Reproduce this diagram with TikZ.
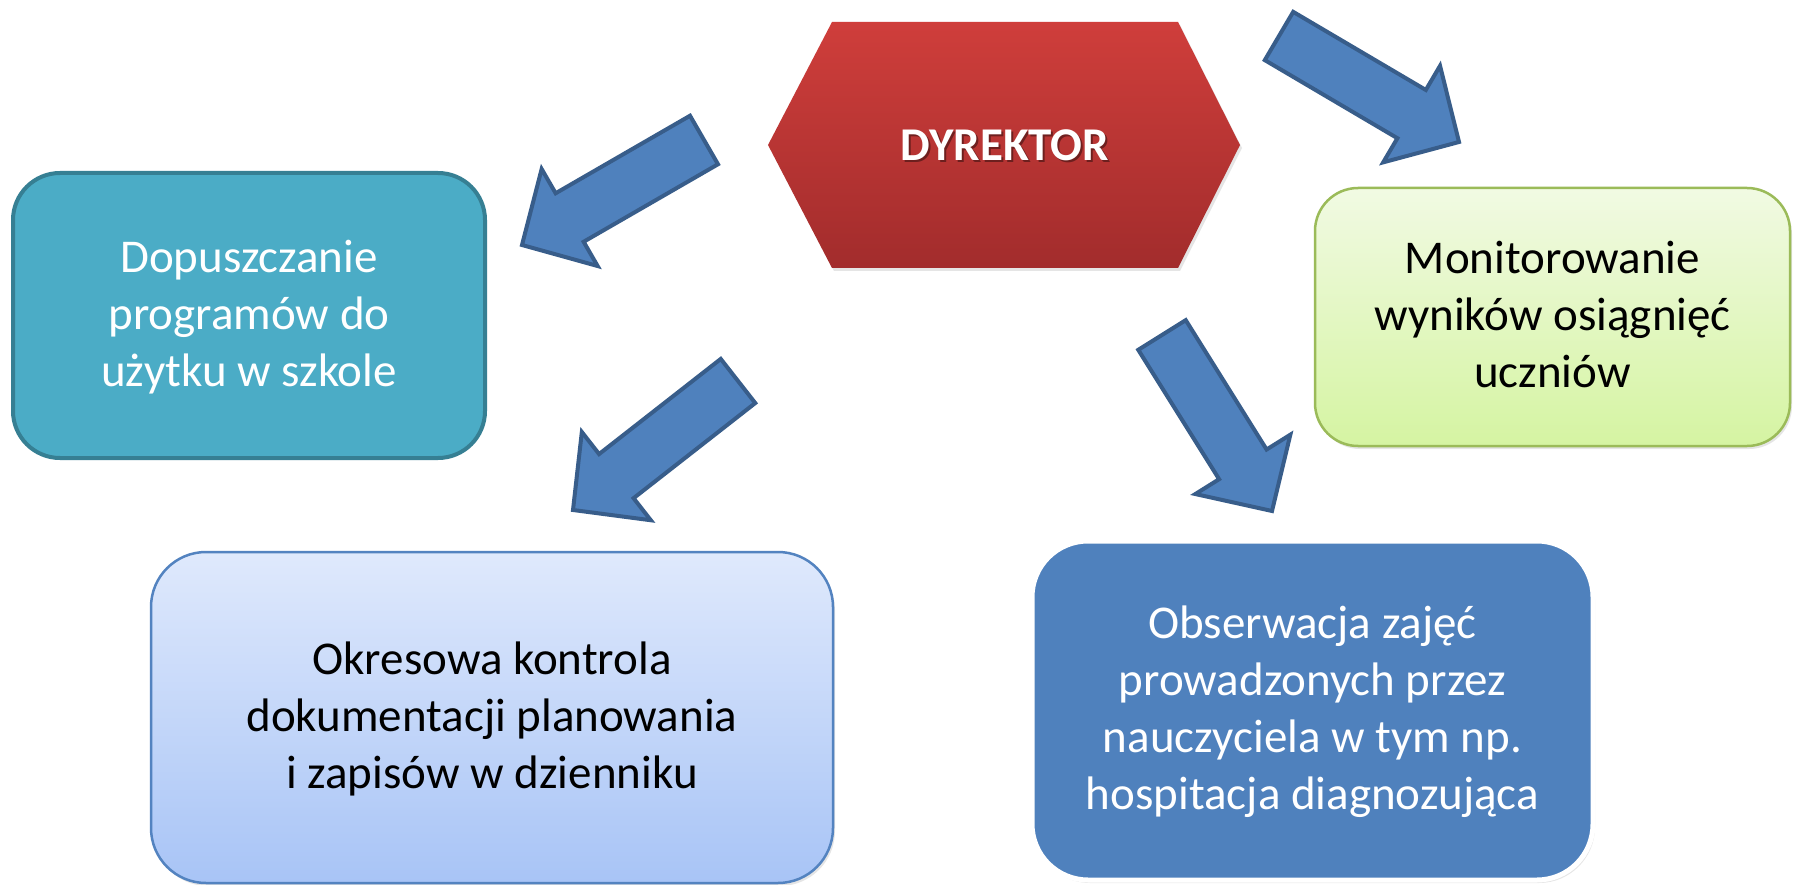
\documentclass[tikz,border=0pt]{standalone}
\usepackage{fontspec}
\setmainfont{Carlito}
\usepackage{xcolor}
\usepackage{tikz}
\usetikzlibrary{calc}
\usetikzlibrary{shadows}

\definecolor{HexTop}{HTML}{CF3E3B}
\definecolor{HexBottom}{HTML}{A22C2C}
\definecolor{TealFill}{HTML}{4BACC6}
\definecolor{TealEdge}{HTML}{367F93}
\definecolor{LimeTop}{HTML}{F1FAE3}
\definecolor{LimeBottom}{HTML}{D5F4A2}
\definecolor{LimeEdge}{HTML}{9BBB59}
\definecolor{SkyTop}{HTML}{DFE9FC}
\definecolor{SkyBottom}{HTML}{A8C4F6}
\definecolor{SkyEdge}{HTML}{5383C0}
\definecolor{ArrowBlue}{HTML}{4F81BD}
\definecolor{ArrowEdge}{HTML}{385D8A}

% fixed height of first line, fixed depth of last line
\newcommand{\ls}{\rule[-10pt]{0pt}{47pt}}

% block arrow from tail #1 to tip #2
\newcommand{\blockarrow}[2]{%
    \coordinate (base) at ($(#2)!55pt!(#1)$);
    \filldraw [blockarrow] ($(#1)!28pt!90:(#2)$) -- ($(base)!28pt!90:(#2)$) -- ($(base)!56pt!90:(#2)$) -- (#2)
        -- ($(base)!56pt!-90:(#2)$) -- ($(base)!28pt!-90:(#2)$) -- ($(#1)!28pt!-90:(#2)$) -- cycle;}

\tikzset{
    box/.style = {align = center, inner sep = 0pt, font = \fontsize{47}{57}\selectfont},
    blockarrow/.style = {fill = ArrowBlue, draw = ArrowEdge, line width = 4pt, line join = miter},
    softshadow/.style = {drop shadow = {shadow xshift = 2pt, shadow yshift = -3pt, opacity = 0.2}}
}

\begin{document}
\begin{tikzpicture}[x = 1pt, y = -1pt]
    \fill [white] (0, 0) rectangle (1793, 885);
    \useasboundingbox (0, 0) rectangle (1793, 885);

    % director
    \shade [top color = HexTop, bottom color = HexBottom, softshadow]
        (832, 22) -- (1178, 22) -- (1240, 145) -- (1178, 268) -- (832, 268) -- (768, 145) -- cycle;
    \node [font = \fontsize{47}{57}\selectfont\bfseries, text = black, opacity = 0.4] (dyrshadow) at (1007, 147) {DYREKTOR};
    \node [font = \fontsize{47}{57}\selectfont\bfseries, text = white] (dyr) at (1005, 145) {DYREKTOR};

    % tasks
    \node [box, minimum width = 472pt, minimum height = 285pt, rounded corners = 47pt,
        fill = TealFill, draw = TealEdge, line width = 4pt, text = white] (dopusz) at (249, 315.5)
        {\ls Dopuszczanie\\programów do\\użytku w szkole\ls};
    \node [box, minimum width = 475pt, minimum height = 258pt, rounded corners = 43pt, softshadow,
        top color = LimeTop, bottom color = LimeBottom, draw = LimeEdge, line width = 2.5pt, text = black] (monit) at (1552.5, 317)
        {\ls Monitorowanie\\wyników osiągnięć\\uczniów\ls};
    \node [box, minimum width = 682pt, minimum height = 331pt, rounded corners = 55pt, softshadow,
        top color = SkyTop, bottom color = SkyBottom, draw = SkyEdge, line width = 2.5pt, text = black] (kontrola) at (492, 717.5)
        {\ls Okresowa kontrola\\dokumentacji planowania\\i zapisów w dzienniku\ls};
    \node [box, minimum width = 561pt, minimum height = 339pt, rounded corners = 56pt, softshadow,
        fill = ArrowBlue, draw = white, line width = 5pt, text = white] (obserw) at (1312.5, 710.5)
        {\ls Obserwacja zajęć\\prowadzonych przez\\nauczyciela w tym np.\\hospitacja diagnozująca\ls};

    % arrows
    \coordinate (tailA) at (704, 140);
    \coordinate (tipA) at (522, 245);
    \coordinate (tailB) at (738, 381);
    \coordinate (tipB) at (573, 510);
    \coordinate (tailC) at (1279, 36);
    \coordinate (tipC) at (1459, 142);
    \coordinate (tailD) at (1162, 335);
    \coordinate (tipD) at (1272, 511);
    \blockarrow{tailA}{tipA}
    \blockarrow{tailB}{tipB}
    \blockarrow{tailC}{tipC}
    \blockarrow{tailD}{tipD}
\end{tikzpicture}
\end{document}
